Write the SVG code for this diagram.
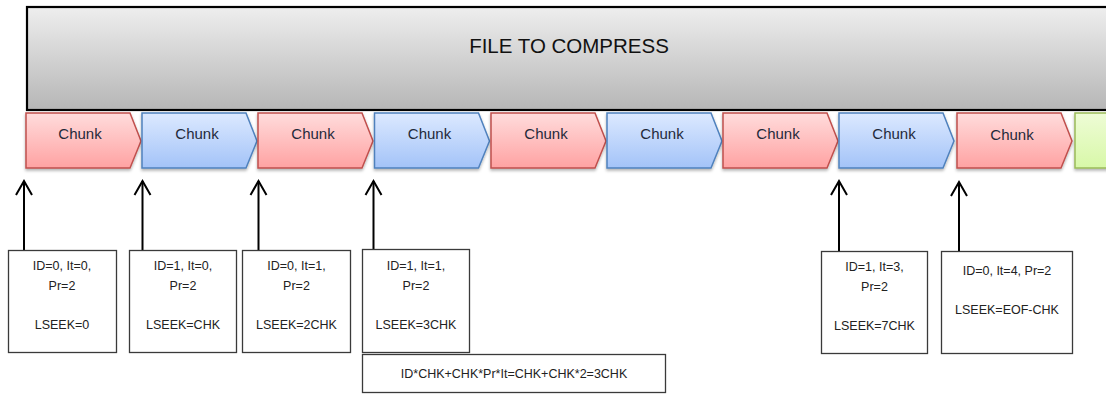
<svg xmlns="http://www.w3.org/2000/svg" width="1106" height="394" viewBox="0 0 1106 394">
<style>
.chunk-label{font-family:"Liberation Sans",Arial,sans-serif;font-size:15px;fill:#1f2a3a;text-anchor:middle}
.title{font-family:"Liberation Sans",Arial,sans-serif;font-size:20.5px;fill:#111;text-anchor:middle}
.box{fill:#fff;stroke:#3a3a3a;stroke-width:1.3}
.bt{font-family:"Liberation Sans",Arial,sans-serif;font-size:12.5px;fill:#222;text-anchor:middle}
.red{fill:url(#gRed);stroke:#c0504d;stroke-width:1.5;filter:url(#sh)}
.blue{fill:url(#gBlue);stroke:#4f81bd;stroke-width:1.5;filter:url(#sh)}
.green{fill:url(#gGreen);stroke:#9bbb59;stroke-width:1.5;filter:url(#sh)}
.conn{stroke:#000;stroke-width:2;fill:none;marker-end:url(#open)}
</style>
<defs>
<linearGradient id="gRed" x1="0" y1="0" x2="0" y2="1"><stop offset="0" stop-color="#ffdcdc"/><stop offset="1" stop-color="#ffa2a2"/></linearGradient>
<linearGradient id="gBlue" x1="0" y1="0" x2="0" y2="1"><stop offset="0" stop-color="#dce9ff"/><stop offset="1" stop-color="#a3c3f8"/></linearGradient>
<linearGradient id="gGreen" x1="0" y1="0" x2="0" y2="1"><stop offset="0" stop-color="#eefcd6"/><stop offset="1" stop-color="#d8f8a8"/></linearGradient>
<linearGradient id="gGray" x1="0" y1="0" x2="0" y2="1"><stop offset="0" stop-color="#eeeeee"/><stop offset="1" stop-color="#b6b6b6"/></linearGradient>
<filter id="sh" x="-10%" y="-10%" width="130%" height="140%"><feDropShadow dx="0" dy="2" stdDeviation="1.5" flood-color="#000" flood-opacity="0.3"/></filter>
<path id="chunkShape" d="M0,113 H104 L115,141 L104,168 H0 Z"/>
<marker id="open" markerUnits="userSpaceOnUse" markerWidth="20" markerHeight="20" viewBox="-16 -10 20 20" refX="0" refY="0" orient="auto">
<path d="M-14,-8 L0,0 L-14,8" fill="none" stroke="#000" stroke-width="2"/>
</marker>
</defs>

<g id="file">
<rect x="27" y="7" width="1090" height="103" fill="url(#gGray)" stroke="#000" stroke-width="2.2"/>
<text class="title" x="569" y="53">FILE TO COMPRESS</text>
</g>

<g id="chunk1"><use href="#chunkShape" x="26" class="red"/><text class="chunk-label" x="80" y="139">Chunk</text></g>
<g id="chunk2"><use href="#chunkShape" x="142" class="blue"/><text class="chunk-label" x="197" y="139">Chunk</text></g>
<g id="chunk3"><use href="#chunkShape" x="258" class="red"/><text class="chunk-label" x="313" y="139">Chunk</text></g>
<g id="chunk4"><use href="#chunkShape" x="374.5" class="blue"/><text class="chunk-label" x="429.5" y="139">Chunk</text></g>
<g id="chunk5"><use href="#chunkShape" x="491" class="red"/><text class="chunk-label" x="546" y="139">Chunk</text></g>
<g id="chunk6"><use href="#chunkShape" x="607" class="blue"/><text class="chunk-label" x="662" y="139">Chunk</text></g>
<g id="chunk7"><use href="#chunkShape" x="723" class="red"/><text class="chunk-label" x="778" y="139">Chunk</text></g>
<g id="chunk8"><use href="#chunkShape" x="839" class="blue"/><text class="chunk-label" x="894" y="139">Chunk</text></g>
<g id="chunk9"><use href="#chunkShape" x="957" class="red"/><text class="chunk-label" x="1012" y="140">Chunk</text></g>
<g id="chunk10"><use href="#chunkShape" x="1075" class="green"/></g>

<g id="connectors">
<line class="conn" x1="24" y1="250" x2="24" y2="181"/>
<line class="conn" x1="142.5" y1="250" x2="142.5" y2="181"/>
<line class="conn" x1="258.5" y1="250" x2="258.5" y2="181"/>
<line class="conn" x1="373.5" y1="249" x2="373.5" y2="181"/>
<line class="conn" x1="839" y1="251" x2="839" y2="181"/>
<line class="conn" x1="959" y1="251" x2="959" y2="182"/>
</g>

<g id="box1"><rect class="box" x="8.5" y="250.5" width="108" height="102"/>
<text class="bt" x="62" y="270">ID=0, It=0,</text><text class="bt" x="62" y="290">Pr=2</text><text class="bt" x="62" y="329">LSEEK=0</text></g>
<g id="box2"><rect class="box" x="129.5" y="250.5" width="107" height="102"/>
<text class="bt" x="183" y="270">ID=1, It=0,</text><text class="bt" x="183" y="290">Pr=2</text><text class="bt" x="183" y="329">LSEEK=CHK</text></g>
<g id="box3"><rect class="box" x="242.5" y="250.5" width="108" height="102"/>
<text class="bt" x="296.5" y="270">ID=0, It=1,</text><text class="bt" x="296.5" y="290">Pr=2</text><text class="bt" x="296.5" y="329">LSEEK=2CHK</text></g>
<g id="box4"><rect class="box" x="362.5" y="249.5" width="107" height="103"/>
<text class="bt" x="416" y="270">ID=1, It=1,</text><text class="bt" x="416" y="290">Pr=2</text><text class="bt" x="416" y="329">LSEEK=3CHK</text></g>
<g id="formula"><rect class="box" x="362.5" y="354.5" width="303" height="38"/>
<text class="bt" x="514" y="378">ID*CHK+CHK*Pr*It=CHK+CHK*2=3CHK</text></g>
<g id="box5"><rect class="box" x="821.5" y="251.5" width="106" height="102"/>
<text class="bt" x="874.5" y="271">ID=1, It=3,</text><text class="bt" x="874.5" y="291">Pr=2</text><text class="bt" x="874.5" y="330">LSEEK=7CHK</text></g>
<g id="box6"><rect class="box" x="941.5" y="251.5" width="131" height="102"/>
<text class="bt" x="1007" y="275">ID=0, It=4, Pr=2</text><text class="bt" x="1007" y="314">LSEEK=EOF-CHK</text></g>
</svg>
